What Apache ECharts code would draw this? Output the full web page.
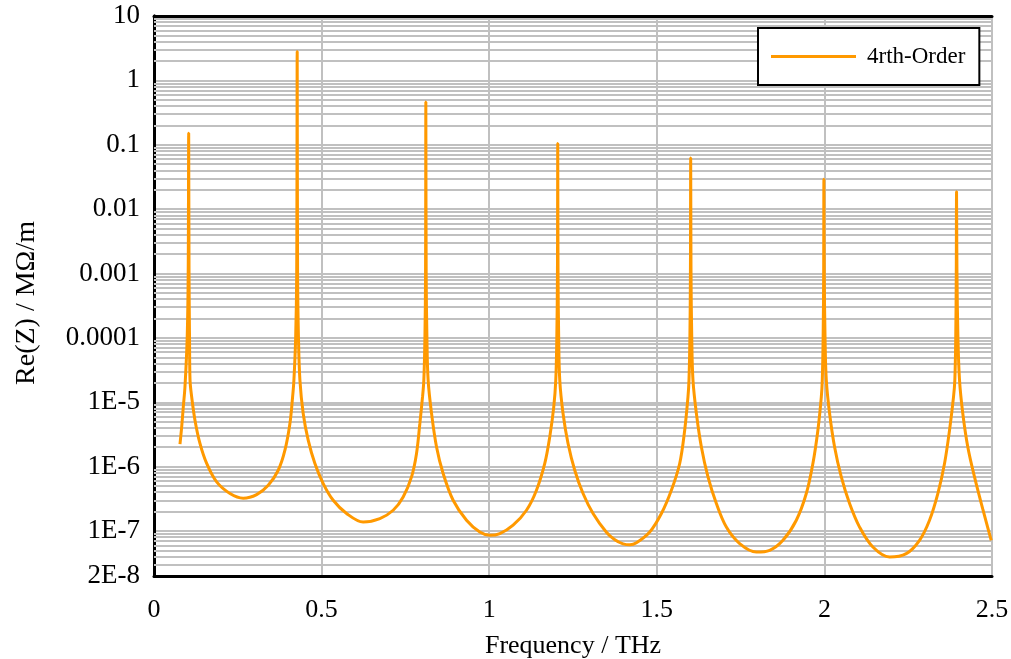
<!DOCTYPE html>
<html>
<head>
<meta charset="utf-8">
<script src="https://cdn.jsdelivr.net/npm/echarts@6/dist/echarts.min.js"></script>
<style>
  html, body { margin: 0; padding: 0; background: #fff; }
  #chart { width: 1011px; height: 659px; }
</style>
</head>
<body>
<div id="chart"></div>
<script>
// Real part of the impedance per unit length vs. frequency (4th-order model)
const freqTHz = [
  0.0775, 0.0826, 0.0874, 0.0924, 0.0990, 0.1020, 0.1035, 0.1045, 0.1060, 0.1075,
  0.1124, 0.1222, 0.1371, 0.1571, 0.1869, 0.2266, 0.2662, 0.3062, 0.3408, 0.3706,
  0.3906, 0.4055, 0.4135, 0.4174, 0.4226, 0.4257, 0.4272, 0.4284, 0.4310, 0.4353,
  0.4451, 0.4600, 0.4800, 0.5048, 0.5346, 0.5745, 0.6240, 0.6738, 0.7135, 0.7433,
  0.7683, 0.7832, 0.7931, 0.8011, 0.8050, 0.8082, 0.8101, 0.8110, 0.8120, 0.8142,
  0.8178, 0.8280, 0.8429, 0.8626, 0.8924, 0.9323, 0.9720, 1.0018, 1.0316, 1.0713,
  1.1112, 1.1410, 1.1658, 1.1807, 1.1926, 1.1986, 1.2017, 1.2036, 1.2045, 1.2054,
  1.2073, 1.2105, 1.2203, 1.2352, 1.2552, 1.2800, 1.3098, 1.3497, 1.3748, 1.3992,
  1.4200, 1.4392,
  1.4789, 1.5137, 1.5435, 1.5683, 1.5832, 1.5930, 1.5960, 1.5987, 1.6003, 1.6011,
  1.6021, 1.6043, 1.6079, 1.6181, 1.6330, 1.6527, 1.6777, 1.7075, 1.7472, 1.7970,
  1.8366, 1.8763, 1.9162, 1.9460, 1.9657, 1.9806, 1.9908, 1.9937, 1.9962, 1.9978,
  1.9985, 1.9996, 2.0019, 2.0057, 2.0155, 2.0304, 2.0504, 2.0751, 2.1049, 2.1446,
  2.1944, 2.2442, 2.2838, 2.3136, 2.3384, 2.3584, 2.3733, 2.3852, 2.3891, 2.3918,
  2.3934, 2.3942, 2.3955, 2.3984, 2.4031, 2.4129, 2.4278, 2.4478, 2.4726, 2.4976
];
const reZ = [
  2.23e-6, 4.14e-6, 8.48e-6, 1.74e-5, 1e-4, 1e-3, 0.151, 1e-3, 1e-4, 2.21e-5,
  1.21e-5, 5.27e-6, 2.29e-6, 1.12e-6, 5.78e-7, 3.82e-7, 3.23e-7, 3.68e-7, 5.14e-7, 8.79e-7,
  1.80e-6, 4.68e-6, 1.21e-5, 2.21e-5, 1e-4, 1e-3, 2.81, 1e-3, 1e-4, 2.21e-5,
  6.70e-6, 2.58e-6, 1.12e-6, 5.46e-7, 3.00e-7, 1.87e-7, 1.38e-7, 1.56e-7, 2.10e-7, 3.38e-7,
  6.92e-7, 1.60e-6, 4.68e-6, 1.21e-5, 2.21e-5, 1e-4, 1e-3, 0.46, 1e-3, 1e-4,
  2.21e-5, 6.70e-6, 2.02e-6, 7.81e-7, 3.00e-7, 1.47e-7, 9.64e-8, 8.57e-8, 9.12e-8, 1.23e-7,
  2.10e-7, 4.30e-7, 1.12e-6, 2.90e-6, 8.48e-6, 2.21e-5, 1e-4, 1e-3, 0.1045, 1e-3,
  1e-4, 2.21e-5, 6.70e-6, 2.29e-6, 8.79e-7, 3.82e-7, 1.87e-7, 9.55e-8, 7.30e-8, 6.32e-8,
  6.10e-8, 6.55e-8,
  9.64e-8, 1.87e-7, 4.30e-7, 1.12e-6, 3.68e-6, 1.21e-5, 2.21e-5, 1e-4, 1e-3, 0.0625,
  1e-3, 1e-4, 2.21e-5, 6.70e-6, 2.02e-6, 6.92e-7, 2.67e-7, 1.15e-7, 6.37e-8, 4.71e-8,
  5.01e-8, 7.17e-8, 1.47e-7, 3.82e-7, 1.12e-6, 3.68e-6, 1.21e-5, 2.21e-5, 1e-4, 1e-3,
  0.0292, 1e-3, 1e-4, 2.21e-5, 6.70e-6, 2.02e-6, 6.92e-7, 2.67e-7, 1.15e-7, 5.64e-8,
  3.94e-8, 4.45e-8, 7.17e-8, 1.47e-7, 3.82e-7, 1.12e-6, 3.68e-6, 1.21e-5, 2.21e-5, 1e-4,
  1e-3, 0.0187, 1e-3, 1e-4, 2.21e-5, 6.70e-6, 2.02e-6, 6.92e-7, 2.18e-7, 7.17e-8
];

const seriesName = '4rth-Order';
const xName = 'Frequency / THz';
const yName = 'Re(Z) / MΩ/m';
const xRange = [0, 2.5];
const xStep = 0.5;
const yRange = [2e-8, 10];

// Minor log grid: 2..9 times each power of ten inside the y range
const minorGridValues = [];
for (let n = -8; n <= 0; n++) {
  for (let k = 2; k <= 9; k++) {
    const v = k * Math.pow(10, n);
    if (v > yRange[0] * 1.0001 && v < yRange[1]) minorGridValues.push(v);
  }
}

function logLabel(v) {
  const e = Math.log10(v);
  const n = Math.round(e);
  if (Math.abs(e - n) < 1e-6) {
    if (n >= 0) return String(Math.pow(10, n));
    if (n >= -4) return Math.pow(10, n).toFixed(-n);
    return '1E' + n;
  }
  const p = Math.floor(e);
  return Math.round(v / Math.pow(10, p)) + 'E' + p;
}

const FONT = '"Liberation Serif", "Times New Roman", serif';
const GRID_COLOR = '#c0c0c0';
const LINE_COLOR = '#FF9900';

const chart = echarts.init(document.getElementById('chart'), null, { renderer: 'canvas' });
chart.setOption({
  animation: false,
  backgroundColor: '#ffffff',
  grid: { left: 154, right: 19, top: 16, bottom: 83, containLabel: false, outerBoundsMode: 'none' },
  legend: {
    left: 758, top: 28,
    z: 50,
    orient: 'horizontal',
    backgroundColor: '#ffffff',
    borderColor: '#000000',
    borderWidth: 2,
    borderRadius: 0,
    padding: [16, 14, 16, 13],
    itemWidth: 85,
    itemHeight: 3,
    textStyle: { fontFamily: FONT, fontSize: 23, color: '#000', padding: [0, 0, 0, 6], lineHeight: 25 },
    data: [{ name: seriesName, icon: 'rect', itemStyle: { color: LINE_COLOR } }]
  },
  xAxis: [
    {
      type: 'value', min: xRange[0], max: xRange[1], interval: xStep,
      name: xName, nameLocation: 'middle', nameGap: 57,
      nameTextStyle: { fontFamily: FONT, fontSize: 26, color: '#000' },
      axisLine: { show: true, onZero: false, lineStyle: { color: '#000', width: 3 } },
      axisTick: { show: false },
      axisLabel: { fontFamily: FONT, fontSize: 26, color: '#000', margin: 21 },
      splitLine: { show: true, lineStyle: { color: GRID_COLOR, width: 2 } }
    },
    {
      type: 'value', position: 'top', min: 0, max: 1,
      axisLine: { show: true, onZero: false, lineStyle: { color: '#000', width: 3 } },
      axisTick: { show: false }, axisLabel: { show: false }, splitLine: { show: false }
    }
  ],
  yAxis: [
    {
      type: 'log', logBase: 10, min: yRange[0], max: yRange[1],
      name: yName, nameLocation: 'middle', nameGap: 113, nameRotate: 90,
      nameTextStyle: { fontFamily: FONT, fontSize: 28, color: '#000', padding: [0, 14, 0, 0] },
      axisLine: { show: true, lineStyle: { color: '#000', width: 3 } },
      axisTick: { show: false },
      axisLabel: { fontFamily: FONT, fontSize: 27, color: '#000', margin: 14, formatter: logLabel,
                   showMinLabel: true, showMaxLabel: true },
      splitLine: { show: true, lineStyle: { color: GRID_COLOR, width: 2 } }
    },
    {
      type: 'value', position: 'right', min: 0, max: 1,
      axisLine: { show: true, lineStyle: { color: '#000', width: 3 } },
      axisTick: { show: false }, axisLabel: { show: false }, splitLine: { show: false }
    }
  ],
  series: [
    {
      // horizontal minor grid lines across the plot
      name: 'minor-grid',
      type: 'lines',
      coordinateSystem: 'cartesian2d',
      silent: true,
      z: 1,
      polyline: false,
      effect: { show: false },
      lineStyle: { color: GRID_COLOR, width: 2, opacity: 1, type: 'solid', curveness: 0 },
      data: minorGridValues.map(v => ({ coords: [[xRange[0], v], [xRange[1], v]] }))
    },
    {
      name: seriesName,
      type: 'line',
      z: 10,
      showSymbol: false,
      symbol: 'none',
      smooth: 0.35,
      lineStyle: { color: LINE_COLOR, width: 3 },
      itemStyle: { color: LINE_COLOR },
      data: freqTHz.map((f, i) => [f, reZ[i]])
    }
  ]
});
</script>
</body>
</html>
